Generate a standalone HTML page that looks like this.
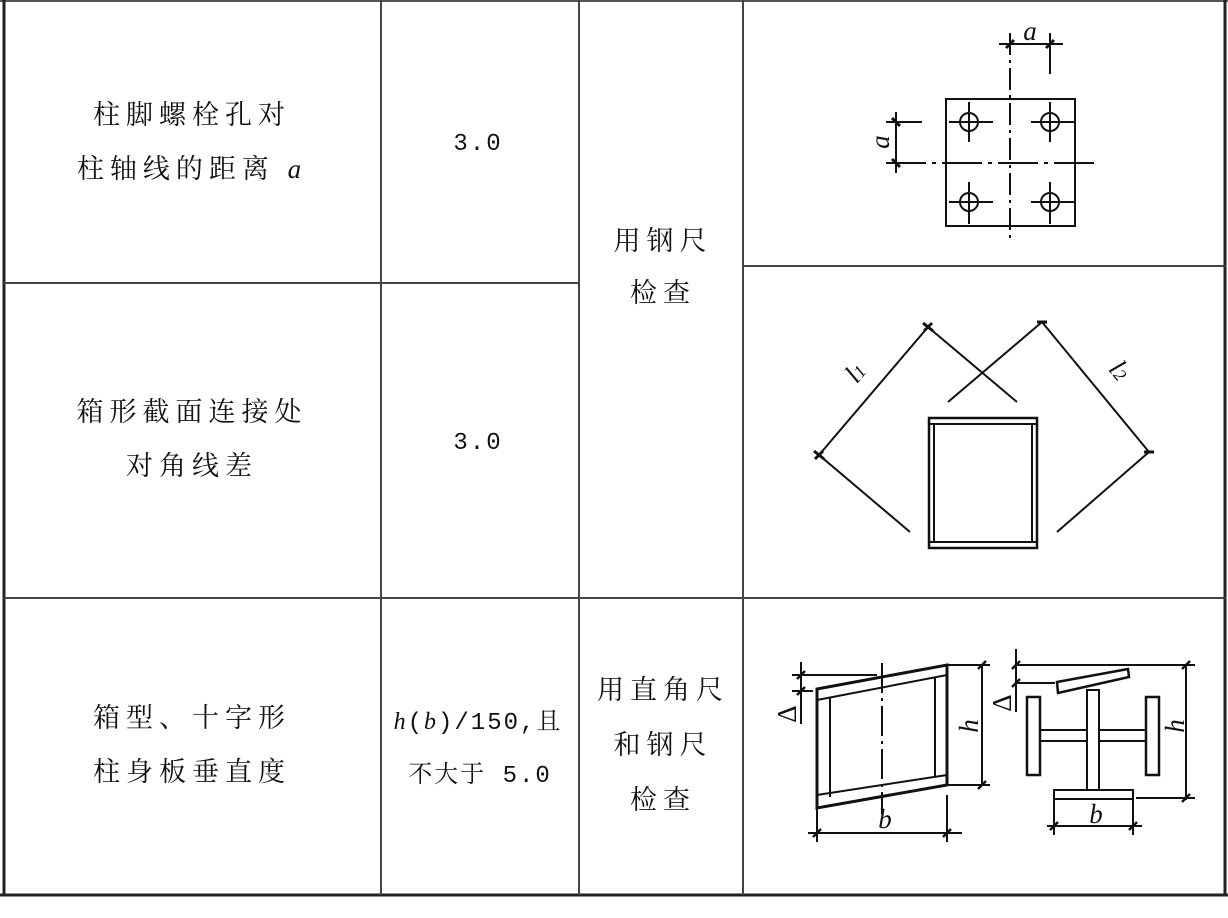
<!DOCTYPE html>
<html><head><meta charset="utf-8"><style>
html,body{margin:0;padding:0;background:#fff;}
svg{display:block;}
text{font-family:"Liberation Serif","Noto Serif CJK SC",serif;font-size:27px;fill:#111;}
.c{letter-spacing:6px;}
.n{font-family:"Liberation Mono","Noto Serif CJK SC",monospace;font-size:24px;letter-spacing:2px;}
.i{font-style:italic;font-family:"Liberation Serif",serif;}
</style></head><body>
<svg width="1228" height="918" viewBox="0 0 1228 918" xmlns="http://www.w3.org/2000/svg">
<g stroke="#222" fill="none">
<line x1="0" y1="1" x2="1228" y2="1" stroke-width="2" stroke="#555"/>
<line x1="4" y1="0" x2="4" y2="896" stroke-width="3"/>
<line x1="1225" y1="0" x2="1225" y2="896" stroke-width="3"/>
<line x1="0" y1="895" x2="1228" y2="895" stroke-width="3"/>
<line x1="381" y1="0" x2="381" y2="895" stroke-width="2" stroke="#444"/>
<line x1="579" y1="0" x2="579" y2="895" stroke-width="2" stroke="#444"/>
<line x1="743" y1="0" x2="743" y2="895" stroke-width="2" stroke="#444"/>
<line x1="4" y1="283" x2="579" y2="283" stroke-width="2" stroke="#444"/>
<line x1="743" y1="266" x2="1225" y2="266" stroke-width="2" stroke="#444"/>
<line x1="4" y1="598" x2="1225" y2="598" stroke-width="2" stroke="#444"/>
</g>
<g text-anchor="middle">
<text x="192" y="124" class="c">柱脚螺栓孔对</text>
<text x="192" y="178" class="c">柱轴线的距离 <tspan class="i">a</tspan></text>
<text x="478" y="150" class="n">3.0</text>
<text x="663" y="250" class="c">用钢尺</text>
<text x="663" y="302" class="c">检查</text>
<text x="192" y="421" class="c">箱形截面连接处</text>
<text x="192" y="475" class="c">对角线差</text>
<text x="478" y="449" class="n">3.0</text>
<text x="192" y="727" class="c">箱型、十字形</text>
<text x="192" y="781" class="c">柱身板垂直度</text>
<text x="478" y="729" class="n"><tspan class="i">h</tspan>(<tspan class="i">b</tspan>)/150,且</text>
<text x="480" y="782" class="n">不大于 5.0</text>
<text x="663" y="699" class="c">用直角尺</text>
<text x="663" y="754" class="c">和钢尺</text>
<text x="663" y="809" class="c">检查</text>
</g>
<!-- drawing 1 -->
<g stroke="#111" fill="none" stroke-width="2">
<rect x="946" y="99" width="129" height="127"/>
<line x1="1010" y1="33" x2="1010" y2="239" stroke-dasharray="22,5,3,5"/>
<line x1="886" y1="163" x2="1097" y2="163" stroke-dasharray="40,6,4,6"/>
<circle cx="969" cy="122" r="9"/><circle cx="1050" cy="122" r="9"/>
<circle cx="969" cy="202" r="9"/><circle cx="1050" cy="202" r="9"/>
<path d="M949 122H993M969 102V142M1031 122H1075M1050 102V142M949 202H993M969 182V224M1031 202H1075M1050 182V224"/>
<line x1="999" y1="44" x2="1063" y2="44"/><line x1="1050" y1="33" x2="1050" y2="74"/>
<line x1="896" y1="112" x2="896" y2="173"/><line x1="886" y1="122" x2="922" y2="122"/>
<path d="M1006 48L1014 40M1046 48L1054 40M892 118L900 126M892 159L900 167" stroke-width="3"/>
</g>
<text x="1030" y="40" class="i" font-size="30" text-anchor="middle">a</text>
<text x="0" y="0" class="i" font-size="30" text-anchor="middle" transform="translate(889,142) rotate(-90)">a</text>
<!-- drawing 2 -->
<g stroke="#111" fill="none" stroke-width="2">
<path d="M928 327L819 455L910 532M928 327L1017 402M1042 322L1149 452L1057 532M1042 322L948 402"/>
<path d="M923 323L933 331M924 331L932 323M814 451L824 459M815 459L823 451M1037 322L1047 322M1144 452L1154 452" stroke-width="3"/>
<rect x="929" y="418" width="108" height="130" stroke-width="2.5"/>
<path d="M929 424H1037M929 542H1037M934 424V542M1032 424V542"/>
</g>
<text x="0" y="0" class="i" font-size="30" text-anchor="middle" transform="translate(862,378) rotate(-50)">l<tspan font-size="18">1</tspan></text>
<text x="0" y="0" class="i" font-size="30" text-anchor="middle" transform="translate(1113,376) rotate(50)">l<tspan font-size="18">2</tspan></text>
<!-- drawing 3 -->
<g stroke="#111" fill="none" stroke-width="2">
<path d="M817 689L947 665L947 785L817 808Z" stroke-width="3"/>
<path d="M817 700L947 675M817 795L947 775M830 698V797M935 677V777"/>
<line x1="882" y1="663" x2="882" y2="814" stroke-dasharray="30,5,3,5"/>
<path d="M792 675H877M792 691H813M801 662V724M947 665H990M947 785H990M982 665V785M817 808V842M947 795V842M808 833H962"/>
<path d="M1057 682L1128 669L1129 677L1058 693Z" stroke-width="2.5"/>
<rect x="1087" y="690" width="12" height="100"/>
<rect x="1054" y="790" width="79" height="9"/>
<rect x="1027" y="697" width="13" height="78" stroke-width="2.5"/>
<rect x="1146" y="697" width="13" height="78" stroke-width="2.5"/>
<path d="M1040 730H1087M1040 741H1087M1099 730H1146M1099 741H1146"/>
<path d="M1015 665H1195M1015 683H1055M1016 649V712M1136 798H1195M1186 665V800M1054 800V835M1133 800V835M1047 826H1142"/>
<path d="M797 679L805 671M797 695L805 687M978 669L986 661M978 789L986 781M813 837L821 829M943 837L951 829M1012 669L1020 661M1012 687L1020 679M1182 669L1190 661M1182 802L1190 794M1050 830L1058 822M1129 830L1137 822" stroke-width="2.5"/>
</g>
<text x="885" y="828" class="i" font-size="30" text-anchor="middle">b</text>
<text x="1096" y="823" class="i" font-size="30" text-anchor="middle">b</text>
<text x="0" y="0" class="i" font-size="30" text-anchor="middle" transform="translate(978,726) rotate(-90)">h</text>
<text x="0" y="0" class="i" font-size="30" text-anchor="middle" transform="translate(1184,726) rotate(-90)">h</text>
<text x="0" y="0" text-anchor="middle" transform="translate(796,714) rotate(-90)" font-size="24">Δ</text>
<text x="0" y="0" text-anchor="middle" transform="translate(1011,703) rotate(-90)" font-size="24">Δ</text>
</svg>
</body></html>
